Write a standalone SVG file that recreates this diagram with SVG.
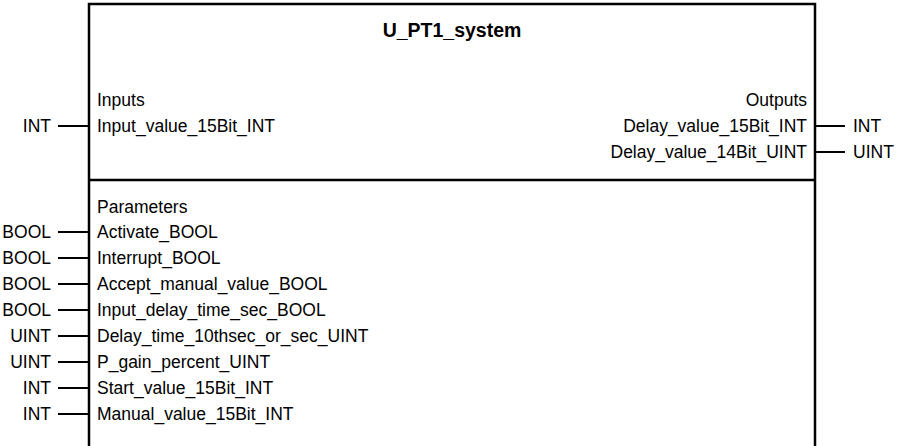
<svg xmlns="http://www.w3.org/2000/svg" width="898" height="446" viewBox="0 0 898 446">
<style>
  text { font-family: "Liberation Sans", Arial, sans-serif; font-size: 17.5px; fill: #000; }
  .title { font-weight: bold; font-size: 19.5px; text-anchor: middle; }
  .r { text-anchor: end; }
  .box { fill: none; stroke: #000; stroke-width: 2.5; }
  .pin { stroke: #000; stroke-width: 2; }
</style>
<rect width="898" height="446" fill="#fff"/>
<g id="block">
  <path class="box" d="M89,446 V4 H815 V446"/>
  <line class="box" x1="89" y1="180" x2="815" y2="180"/>
  <text class="title" x="452" y="37">U_PT1_system</text>
  <text x="97" y="106">Inputs</text>
  <text x="97" y="132">Input_value_15Bit_INT</text>
  <text class="r" x="807" y="106">Outputs</text>
  <text class="r" x="807" y="132">Delay_value_15Bit_INT</text>
  <text class="r" x="807" y="158">Delay_value_14Bit_UINT</text>
  <text x="97" y="213">Parameters</text>
  <text x="97" y="238">Activate_BOOL</text>
  <text x="97" y="264">Interrupt_BOOL</text>
  <text x="97" y="290">Accept_manual_value_BOOL</text>
  <text x="97" y="316">Input_delay_time_sec_BOOL</text>
  <text x="97" y="342">Delay_time_10thsec_or_sec_UINT</text>
  <text x="97" y="368">P_gain_percent_UINT</text>
  <text x="97" y="394">Start_value_15Bit_INT</text>
  <text x="97" y="420">Manual_value_15Bit_INT</text>
</g>
<g id="connectors">
  <line class="pin" x1="58" y1="126" x2="89" y2="126"/>
  <line class="pin" x1="815" y1="126" x2="845" y2="126"/>
  <line class="pin" x1="815" y1="152" x2="845" y2="152"/>
  <line class="pin" x1="58" y1="232" x2="89" y2="232"/>
  <line class="pin" x1="58" y1="258" x2="89" y2="258"/>
  <line class="pin" x1="58" y1="284" x2="89" y2="284"/>
  <line class="pin" x1="58" y1="310" x2="89" y2="310"/>
  <line class="pin" x1="58" y1="336" x2="89" y2="336"/>
  <line class="pin" x1="58" y1="362" x2="89" y2="362"/>
  <line class="pin" x1="58" y1="388" x2="89" y2="388"/>
  <line class="pin" x1="58" y1="414" x2="89" y2="414"/>
</g>
<g id="types">
  <text class="r" x="51" y="132">INT</text>
  <text x="853" y="132">INT</text>
  <text x="853" y="158">UINT</text>
  <text class="r" x="51" y="238">BOOL</text>
  <text class="r" x="51" y="264">BOOL</text>
  <text class="r" x="51" y="290">BOOL</text>
  <text class="r" x="51" y="316">BOOL</text>
  <text class="r" x="51" y="342">UINT</text>
  <text class="r" x="51" y="368">UINT</text>
  <text class="r" x="51" y="394">INT</text>
  <text class="r" x="51" y="420">INT</text>
</g>
</svg>
